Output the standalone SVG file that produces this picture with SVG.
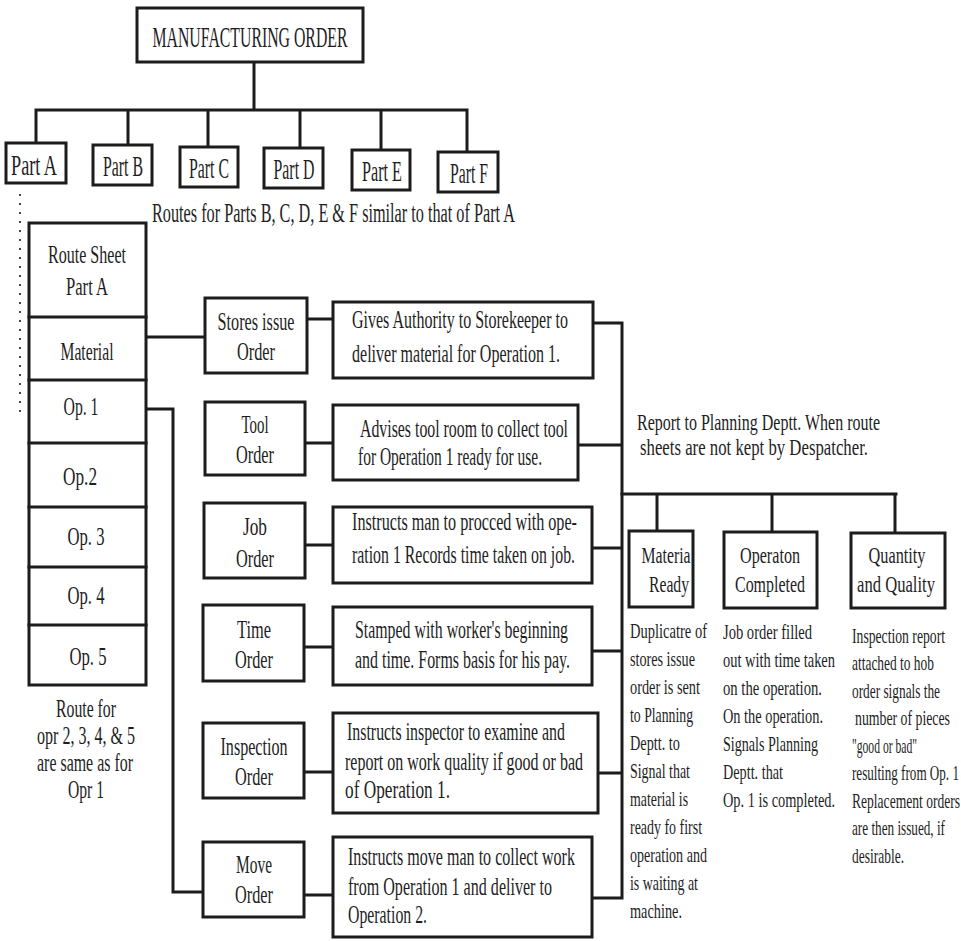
<svg xmlns="http://www.w3.org/2000/svg" width="961" height="941" viewBox="0 0 961 941">
  <style>
    .box { fill: #ffffff; stroke: #1c1c1c; stroke-width: 3; }
    .ln { fill: none; stroke: #1c1c1c; stroke-width: 3; stroke-linecap: square; }
    .dot { fill: none; stroke: #444; stroke-width: 2; stroke-dasharray: 2 7; }
    text { font-family: "Liberation Serif", "Times New Roman", serif; fill: #1e1e1e; }
    .c { text-anchor: middle; }
    .t29 { font-size: 29px; }
    .t27 { font-size: 27px; }
    .t26 { font-size: 26px; }
    .t25 { font-size: 25px; }
    .t24 { font-size: 24px; }
    .t22 { font-size: 22px; }
  </style>
  <rect width="961" height="941" fill="#ffffff"/>

  <!-- connectors -->
  <g id="connectors">
    <!-- manufacturing order to parts -->
    <path class="ln" d="M254 63 V110 M36 110 H467 M36 110 V143 M128 110 V145 M208 110 V147 M300 110 V148 M381 110 V150 M467 110 V152"/>
    <path class="dot" d="M20 194 V414"/>
    <!-- material and op 1 feeds -->
    <path class="ln" d="M146 337 H205"/>
    <path class="ln" d="M146 409 H173 V892 H203"/>
    <!-- orders to descriptions -->
    <path class="ln" d="M307 319 H333 M305 443 H333 M305 545 H333 M304 647 H333 M304 772 H333 M304 895 H333"/>
    <!-- descriptions to report bus -->
    <path class="ln" d="M593 323 H622 V898 M578 445 H622 M592 548 H622 M592 651 H622 M598 773 H622 M592 898 H622"/>
    <!-- report branch -->
    <path class="ln" d="M622 494 H896 M657 494 V531 M772 494 V532 M895 494 V533"/>
  </g>

  <!-- all lettering is a condensed serif: each line is drawn at 0.6 horizontal scale -->
  <g id="mfg-order">
    <rect class="box" x="137" y="8" width="226" height="54"/>
    <text class="c t29" transform="translate(250 47) scale(0.6 1)" textLength="325" lengthAdjust="spacingAndGlyphs">MANUFACTURING ORDER</text>
  </g>

  <g id="part-a">
    <rect class="box" x="6" y="143" width="60" height="40"/>
    <text class="c t29" transform="translate(34 175) scale(0.6 1)" textLength="76.7" lengthAdjust="spacingAndGlyphs">Part A</text>
  </g>
  <g id="part-b">
    <rect class="box" x="93" y="145" width="59" height="40"/>
    <text class="c t29" transform="translate(123 176) scale(0.6 1)" textLength="66.7" lengthAdjust="spacingAndGlyphs">Part B</text>
  </g>
  <g id="part-c">
    <rect class="box" x="180" y="147" width="58" height="40"/>
    <text class="c t29" transform="translate(209 178) scale(0.6 1)" textLength="66.7" lengthAdjust="spacingAndGlyphs">Part C</text>
  </g>
  <g id="part-d">
    <rect class="box" x="264" y="148" width="59" height="40"/>
    <text class="c t29" transform="translate(294 179) scale(0.6 1)" textLength="68.3" lengthAdjust="spacingAndGlyphs">Part D</text>
  </g>
  <g id="part-e">
    <rect class="box" x="352" y="150" width="58" height="40"/>
    <text class="c t29" transform="translate(382 181) scale(0.6 1)" textLength="66.7" lengthAdjust="spacingAndGlyphs">Part E</text>
  </g>
  <g id="part-f">
    <rect class="box" x="438" y="152" width="60" height="40"/>
    <text class="c t29" transform="translate(469 183) scale(0.6 1)" textLength="63.3" lengthAdjust="spacingAndGlyphs">Part F</text>
  </g>

  <g id="routes-note">
    <text class="t27" transform="translate(152 222) scale(0.6 1)" textLength="605" lengthAdjust="spacingAndGlyphs">Routes for Parts B, C, D, E &amp; F similar to that of Part A</text>
  </g>

  <!-- route sheet column -->
  <g id="route-sheet">
    <rect class="box" x="29" y="223" width="117" height="462"/>
    <path class="ln" d="M29 317 H146 M29 380 H146 M29 443 H146 M29 507 H146 M29 567 H146 M29 625 H146"/>
    <text class="c t26" transform="translate(87 263) scale(0.6 1)" textLength="130" lengthAdjust="spacingAndGlyphs">Route Sheet</text>
    <text class="c t26" transform="translate(87 295) scale(0.6 1)" textLength="70" lengthAdjust="spacingAndGlyphs">Part A</text>
    <text class="c t26" transform="translate(87 360) scale(0.6 1)" textLength="88.3" lengthAdjust="spacingAndGlyphs">Material</text>
    <text class="c t26" transform="translate(81 415) scale(0.6 1)" textLength="58.3" lengthAdjust="spacingAndGlyphs">Op. 1</text>
    <text class="c t26" transform="translate(80 485) scale(0.6 1)" textLength="56.7" lengthAdjust="spacingAndGlyphs">Op.2</text>
    <text class="c t26" transform="translate(86 545) scale(0.6 1)" textLength="61.7" lengthAdjust="spacingAndGlyphs">Op. 3</text>
    <text class="c t26" transform="translate(86 604) scale(0.6 1)" textLength="61.7" lengthAdjust="spacingAndGlyphs">Op. 4</text>
    <text class="c t26" transform="translate(88 665) scale(0.6 1)" textLength="61.7" lengthAdjust="spacingAndGlyphs">Op. 5</text>
  </g>

  <g id="route-note">
    <text class="c t25" transform="translate(86 717) scale(0.6 1)" textLength="100" lengthAdjust="spacingAndGlyphs">Route for</text>
    <text class="c t25" transform="translate(86 744) scale(0.6 1)" textLength="163.3" lengthAdjust="spacingAndGlyphs">opr 2, 3, 4, &amp; 5</text>
    <text class="c t25" transform="translate(85 771) scale(0.6 1)" textLength="160" lengthAdjust="spacingAndGlyphs">are same as for</text>
    <text class="c t25" transform="translate(86 798) scale(0.6 1)" textLength="60" lengthAdjust="spacingAndGlyphs">Opr 1</text>
  </g>

  <!-- order forms -->
  <g id="stores-issue-order">
    <rect class="box" x="205" y="298" width="102" height="75"/>
    <text class="c t26" transform="translate(256 330) scale(0.6 1)" textLength="128.3" lengthAdjust="spacingAndGlyphs">Stores issue</text>
    <text class="c t26" transform="translate(256 360) scale(0.6 1)" textLength="63.3" lengthAdjust="spacingAndGlyphs">Order</text>
  </g>
  <g id="tool-order">
    <rect class="box" x="205" y="402" width="100" height="73"/>
    <text class="c t26" transform="translate(255 433) scale(0.6 1)" textLength="45" lengthAdjust="spacingAndGlyphs">Tool</text>
    <text class="c t26" transform="translate(255 463) scale(0.6 1)" textLength="63.3" lengthAdjust="spacingAndGlyphs">Order</text>
  </g>
  <g id="job-order">
    <rect class="box" x="204" y="503" width="101" height="75"/>
    <text class="c t26" transform="translate(255 535) scale(0.6 1)" textLength="40" lengthAdjust="spacingAndGlyphs">Job</text>
    <text class="c t26" transform="translate(255 567) scale(0.6 1)" textLength="63.3" lengthAdjust="spacingAndGlyphs">Order</text>
  </g>
  <g id="time-order">
    <rect class="box" x="203" y="605" width="101" height="76"/>
    <text class="c t26" transform="translate(254 638) scale(0.6 1)" textLength="56.7" lengthAdjust="spacingAndGlyphs">Time</text>
    <text class="c t26" transform="translate(254 668) scale(0.6 1)" textLength="63.3" lengthAdjust="spacingAndGlyphs">Order</text>
  </g>
  <g id="inspection-order">
    <rect class="box" x="203" y="723" width="101" height="75"/>
    <text class="c t26" transform="translate(254 755) scale(0.6 1)" textLength="111.7" lengthAdjust="spacingAndGlyphs">Inspection</text>
    <text class="c t26" transform="translate(254 785) scale(0.6 1)" textLength="63.3" lengthAdjust="spacingAndGlyphs">Order</text>
  </g>
  <g id="move-order">
    <rect class="box" x="203" y="842" width="101" height="75"/>
    <text class="c t26" transform="translate(254 873) scale(0.6 1)" textLength="60" lengthAdjust="spacingAndGlyphs">Move</text>
    <text class="c t26" transform="translate(254 903) scale(0.6 1)" textLength="63.3" lengthAdjust="spacingAndGlyphs">Order</text>
  </g>

  <!-- purpose of each order -->
  <g id="stores-issue-desc">
    <rect class="box" x="333" y="302" width="260" height="76"/>
    <text class="t25" transform="translate(352 328) scale(0.6 1)" textLength="360" lengthAdjust="spacingAndGlyphs">Gives Authority to Storekeeper to</text>
    <text class="t25" transform="translate(352 362) scale(0.6 1)" textLength="346.7" lengthAdjust="spacingAndGlyphs">deliver material for Operation 1.</text>
  </g>
  <g id="tool-desc">
    <rect class="box" x="333" y="405" width="245" height="75"/>
    <text class="t25" transform="translate(360 437) scale(0.6 1)" textLength="346.7" lengthAdjust="spacingAndGlyphs">Advises tool room to collect tool</text>
    <text class="t25" transform="translate(358 465) scale(0.6 1)" textLength="306.7" lengthAdjust="spacingAndGlyphs">for Operation 1 ready for use.</text>
  </g>
  <g id="job-desc">
    <rect class="box" x="333" y="507" width="259" height="76"/>
    <text class="t25" transform="translate(352 530) scale(0.6 1)" textLength="375" lengthAdjust="spacingAndGlyphs">Instructs man to procced with ope-</text>
    <text class="t25" transform="translate(352 563) scale(0.6 1)" textLength="371.7" lengthAdjust="spacingAndGlyphs">ration 1 Records time taken on job.</text>
  </g>
  <g id="time-desc">
    <rect class="box" x="333" y="607" width="259" height="78"/>
    <text class="t25" transform="translate(355 638) scale(0.6 1)" textLength="355" lengthAdjust="spacingAndGlyphs">Stamped with worker's beginning</text>
    <text class="t25" transform="translate(355 668) scale(0.6 1)" textLength="358.3" lengthAdjust="spacingAndGlyphs">and time. Forms basis for his pay.</text>
  </g>
  <g id="inspection-desc">
    <rect class="box" x="333" y="713" width="265" height="100"/>
    <text class="t25" transform="translate(347 740) scale(0.6 1)" textLength="363.3" lengthAdjust="spacingAndGlyphs">Instructs inspector to examine and</text>
    <text class="t25" transform="translate(345 770) scale(0.6 1)" textLength="396.7" lengthAdjust="spacingAndGlyphs">report on work quality if good or bad</text>
    <text class="t25" transform="translate(345 798) scale(0.6 1)" textLength="175" lengthAdjust="spacingAndGlyphs">of Operation 1.</text>
  </g>
  <g id="move-desc">
    <rect class="box" x="333" y="837" width="259" height="100"/>
    <text class="t25" transform="translate(348 865) scale(0.6 1)" textLength="378.3" lengthAdjust="spacingAndGlyphs">Instructs move man to collect work</text>
    <text class="t25" transform="translate(348 895) scale(0.6 1)" textLength="340" lengthAdjust="spacingAndGlyphs">from Operation 1 and deliver to</text>
    <text class="t25" transform="translate(348 923) scale(0.6 1)" textLength="131.7" lengthAdjust="spacingAndGlyphs">Operation 2.</text>
  </g>

  <g id="report-note">
    <text class="t24" transform="translate(637 430) scale(0.6 1)" textLength="405" lengthAdjust="spacingAndGlyphs">Report to Planning Deptt. When route</text>
    <text class="t24" transform="translate(640 455) scale(0.6 1)" textLength="380" lengthAdjust="spacingAndGlyphs">sheets are not kept by Despatcher.</text>
  </g>

  <!-- reports to planning -->
  <g id="material-ready">
    <rect class="box" x="629" y="531" width="64" height="76"/>
    <text class="c t24" transform="translate(666 563) scale(0.6 1)" textLength="81.7" lengthAdjust="spacingAndGlyphs">Materia</text>
    <text class="c t24" transform="translate(669 592) scale(0.6 1)" textLength="66.7" lengthAdjust="spacingAndGlyphs">Ready</text>
    <text class="t22" transform="translate(630 638) scale(0.6 1)" textLength="128.3" lengthAdjust="spacingAndGlyphs">Duplicatre of</text>
    <text class="t22" transform="translate(630 666) scale(0.6 1)" textLength="108.3" lengthAdjust="spacingAndGlyphs">stores issue</text>
    <text class="t22" transform="translate(630 694) scale(0.6 1)" textLength="116.7" lengthAdjust="spacingAndGlyphs">order is sent</text>
    <text class="t22" transform="translate(630 722) scale(0.6 1)" textLength="105" lengthAdjust="spacingAndGlyphs">to Planning</text>
    <text class="t22" transform="translate(630 750) scale(0.6 1)" textLength="83.3" lengthAdjust="spacingAndGlyphs">Deptt. to</text>
    <text class="t22" transform="translate(630 778) scale(0.6 1)" textLength="100" lengthAdjust="spacingAndGlyphs">Signal that</text>
    <text class="t22" transform="translate(630 806) scale(0.6 1)" textLength="96.7" lengthAdjust="spacingAndGlyphs">material is</text>
    <text class="t22" transform="translate(630 834) scale(0.6 1)" textLength="120" lengthAdjust="spacingAndGlyphs">ready fo first</text>
    <text class="t22" transform="translate(630 862) scale(0.6 1)" textLength="128.3" lengthAdjust="spacingAndGlyphs">operation and</text>
    <text class="t22" transform="translate(630 890) scale(0.6 1)" textLength="113.3" lengthAdjust="spacingAndGlyphs">is waiting at</text>
    <text class="t22" transform="translate(630 918) scale(0.6 1)" textLength="86.7" lengthAdjust="spacingAndGlyphs">machine.</text>
  </g>
  <g id="op-completed">
    <rect class="box" x="724" y="532" width="93" height="76"/>
    <text class="c t24" transform="translate(770 563) scale(0.6 1)" textLength="100" lengthAdjust="spacingAndGlyphs">Operaton</text>
    <text class="c t24" transform="translate(770 592) scale(0.6 1)" textLength="116.7" lengthAdjust="spacingAndGlyphs">Completed</text>
    <text class="t22" transform="translate(723 639) scale(0.6 1)" textLength="148.3" lengthAdjust="spacingAndGlyphs">Job order filled</text>
    <text class="t22" transform="translate(723 667) scale(0.6 1)" textLength="186.7" lengthAdjust="spacingAndGlyphs">out with time taken</text>
    <text class="t22" transform="translate(723 695) scale(0.6 1)" textLength="165" lengthAdjust="spacingAndGlyphs">on the operation.</text>
    <text class="t22" transform="translate(723 723) scale(0.6 1)" textLength="166.7" lengthAdjust="spacingAndGlyphs">On the operation.</text>
    <text class="t22" transform="translate(723 751) scale(0.6 1)" textLength="158.3" lengthAdjust="spacingAndGlyphs">Signals Planning</text>
    <text class="t22" transform="translate(723 779) scale(0.6 1)" textLength="100" lengthAdjust="spacingAndGlyphs">Deptt. that</text>
    <text class="t22" transform="translate(723 807) scale(0.6 1)" textLength="186.7" lengthAdjust="spacingAndGlyphs">Op. 1 is completed.</text>
  </g>
  <g id="qty-quality">
    <rect class="box" x="851" y="533" width="94" height="75"/>
    <text class="c t24" transform="translate(897 563) scale(0.6 1)" textLength="95" lengthAdjust="spacingAndGlyphs">Quantity</text>
    <text class="c t24" transform="translate(896 592) scale(0.6 1)" textLength="130" lengthAdjust="spacingAndGlyphs">and Quality</text>
    <text class="t22" transform="translate(852 643) scale(0.6 1)" textLength="155" lengthAdjust="spacingAndGlyphs">Inspection report</text>
    <text class="t22" transform="translate(852 670) scale(0.6 1)" textLength="136.7" lengthAdjust="spacingAndGlyphs">attached to hob</text>
    <text class="t22" transform="translate(852 698) scale(0.6 1)" textLength="146.7" lengthAdjust="spacingAndGlyphs">order signals the</text>
    <text class="t22" transform="translate(855 725) scale(0.6 1)" textLength="158.3" lengthAdjust="spacingAndGlyphs">number of pieces</text>
    <text class="t22" transform="translate(852 753) scale(0.6 1)" textLength="108.3" lengthAdjust="spacingAndGlyphs">"good or bad"</text>
    <text class="t22" transform="translate(852 780) scale(0.6 1)" textLength="178.3" lengthAdjust="spacingAndGlyphs">resulting from Op. 1</text>
    <text class="t22" transform="translate(852 808) scale(0.6 1)" textLength="180" lengthAdjust="spacingAndGlyphs">Replacement orders</text>
    <text class="t22" transform="translate(852 835) scale(0.6 1)" textLength="155" lengthAdjust="spacingAndGlyphs">are then issued, if</text>
    <text class="t22" transform="translate(852 863) scale(0.6 1)" textLength="86.7" lengthAdjust="spacingAndGlyphs">desirable.</text>
  </g>
</svg>
